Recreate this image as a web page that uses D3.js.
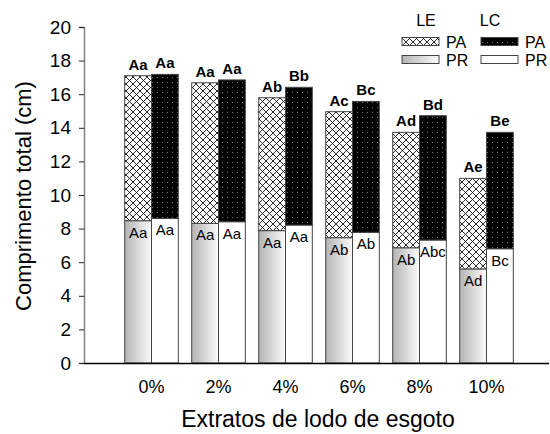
<html>
<head>
<title>Comprimento total</title>
<script type="text/javascript" src="https://d3js.org/d3.v7.min.js"></script>
<style>
  body { margin: 0; background: #fff; }
  text { font-family: "Liberation Sans", Arial, sans-serif; }
</style>
</head>
<body>
<script type="text/javascript">
  var width = 550;
  var height = 434;

  // data
  var categories = ["0%", "2%", "4%", "6%", "8%", "10%"];
  var lePR = [8.47, 8.31, 7.88, 7.46, 6.86, 5.60];
  var lePA = [8.63, 8.37, 7.91, 7.50, 6.87, 5.39];
  var lcPR = [8.61, 8.41, 8.21, 7.78, 7.32, 6.80];
  var lcPA = [8.57, 8.44, 8.20, 7.79, 7.40, 6.93];
  var leTopLabels = ["Aa", "Aa", "Ab", "Ac", "Ad", "Ae"];
  var lcTopLabels = ["Aa", "Aa", "Bb", "Bc", "Bd", "Be"];
  var lePRLabels = ["Aa", "Aa", "Aa", "Ab", "Ab", "Ad"];
  var lcPRLabels = ["Aa", "Aa", "Aa", "Ab", "Abc", "Bc"];
  var yTicks = [0, 2, 4, 6, 8, 10, 12, 14, 16, 18, 20];
  var groups = ["LE", "LC"];

  var svg = d3.select("body")
              .append("svg")
              .attr("width", width)
              .attr("height", height);

  var defs = svg.append("defs");

  // cross hatch for LE / PA
  var hatch = defs.append("pattern")
                  .attr("id", "hatch")
                  .attr("patternUnits", "userSpaceOnUse")
                  .attr("width", 7)
                  .attr("height", 7);
  hatch.append("rect").attr("width", 7).attr("height", 7).attr("fill", "#fff");
  hatch.append("path").attr("d", "M0,0L7,7M7,0L0,7M-1,6L1,8M6,-1L8,1M-1,1L1,-1M6,8L8,6")
       .attr("stroke", "#111").attr("stroke-width", 0.9);

  // black with grey dots for LC / PA
  var dots = defs.append("pattern")
                 .attr("id", "dots")
                 .attr("patternUnits", "userSpaceOnUse")
                 .attr("width", 5)
                 .attr("height", 5);
  dots.append("rect").attr("width", 5).attr("height", 5).attr("fill", "#000");
  dots.append("rect").attr("x", 2).attr("y", 2).attr("width", 1).attr("height", 1).attr("fill", "#777");

  // grey gradient for LE / PR
  var grad = defs.append("linearGradient")
                 .attr("id", "grad")
                 .attr("x1", "0%").attr("x2", "100%")
                 .attr("y1", "0%").attr("y2", "0%");
  grad.append("stop").attr("offset", "0%").attr("stop-color", "#b4b4b4");
  grad.append("stop").attr("offset", "100%").attr("stop-color", "#fbfbfb");

  var fills = {
    LE: { PR: "url(#grad)", PA: "url(#hatch)" },
    LC: { PR: "#ffffff", PA: "url(#dots)" }
  };

  var x0 = d3.scaleBand()
             .domain(categories)
             .range([118, 520])
             .paddingInner(0.2)
             .paddingOuter(0.1);

  var x1 = d3.scaleBand()
             .domain(groups)
             .range([0, x0.bandwidth()]);

  var y = d3.scaleLinear()
            .domain([0, 20])
            .range([363, 27]);

  var rows = categories.map(function(c, i) {
    return [
      { cat: c, group: "LE", PR: lePR[i], PA: lePA[i], top: leTopLabels[i], low: lePRLabels[i] },
      { cat: c, group: "LC", PR: lcPR[i], PA: lcPA[i], top: lcTopLabels[i], low: lcPRLabels[i] }
    ];
  });
  var flat = d3.merge(rows);

  var stack = d3.stack().keys(["PR", "PA"]);
  var series = stack(flat);

  var bars = svg.append("g");
  series.forEach(function(s) {
    bars.selectAll(null)
        .data(s)
        .enter().append("rect")
        .attr("x", function(d){ return x0(d.data.cat) + x1(d.data.group); })
        .attr("width", x1.bandwidth())
        .attr("y", function(d){ return y(d[1]); })
        .attr("height", function(d){ return y(d[0]) - y(d[1]); })
        .attr("fill", function(d){ return fills[d.data.group][s.key]; })
        .attr("stroke", "#444")
        .attr("stroke-width", 1);
  });

  // labels above bars
  svg.append("g").selectAll("text")
     .data(flat)
     .enter().append("text")
     .attr("x", function(d){ return x0(d.cat) + x1(d.group) + x1.bandwidth() / 2; })
     .attr("y", function(d){ return y(d.PR + d.PA) - 6; })
     .attr("text-anchor", "middle")
     .attr("font-size", 15)
     .attr("font-weight", "bold")
     .text(function(d){ return d.top; });

  // labels inside PR
  svg.append("g").selectAll("text")
     .data(flat)
     .enter().append("text")
     .attr("x", function(d){ return x0(d.cat) + x1(d.group) + x1.bandwidth() / 2; })
     .attr("y", function(d){ return y(d.PR) + 17; })
     .attr("text-anchor", "middle")
     .attr("font-size", 15)
     .text(function(d){ return d.low; });

  // y axis
  var yAxis = svg.append("g")
                 .attr("transform", "translate(84,0)")
                 .call(d3.axisLeft(y).tickValues(yTicks).tickSize(5).tickPadding(8));
  yAxis.select(".domain").attr("stroke", "#808080").attr("stroke-width", 1.5);
  yAxis.selectAll(".tick line").attr("stroke", "#222");
  yAxis.selectAll(".tick text")
       .attr("font-size", 19)
       .attr("fill", "#000")
       .style("font-family", "'Liberation Sans', Arial, sans-serif");

  // x axis
  var xAxis = svg.append("g")
                 .attr("transform", "translate(0,363)")
                 .call(d3.axisBottom(x0).tickSize(0).tickPadding(17));
  xAxis.select(".domain").attr("d", "M84,0.5H549").attr("stroke", "#000").attr("stroke-width", 1.5);
  xAxis.selectAll(".tick text")
       .attr("font-size", 18)
       .attr("fill", "#000")
       .style("font-family", "'Liberation Sans', Arial, sans-serif");

  svg.append("text")
     .attr("x", 318)
     .attr("y", 427)
     .attr("text-anchor", "middle")
     .attr("font-size", 23)
     .text("Extratos de lodo de esgoto");

  svg.append("text")
     .attr("transform", "translate(31,196) rotate(-90)")
     .attr("text-anchor", "middle")
     .attr("font-size", 22)
     .text("Comprimento total (cm)");

  // legend
  var legend = svg.append("g");
  var legendCols = [
    { key: "LE", x: 402, head: 426 },
    { key: "LC", x: 481, head: 490 }
  ];
  legendCols.forEach(function(c) {
    legend.append("text")
          .attr("x", c.head)
          .attr("y", 26)
          .attr("text-anchor", "middle")
          .attr("font-size", 16)
          .text(c.key);
    ["PA", "PR"].forEach(function(k, j) {
      legend.append("rect")
            .attr("x", c.x)
            .attr("y", 37.5 + j * 18)
            .attr("width", 37)
            .attr("height", 8)
            .attr("fill", fills[c.key][k])
            .attr("stroke", "#444");
      legend.append("text")
            .attr("x", c.x + 44)
            .attr("y", 47.5 + j * 18)
            .attr("font-size", 16)
            .text(k);
    });
  });
</script>
</body>
</html>
